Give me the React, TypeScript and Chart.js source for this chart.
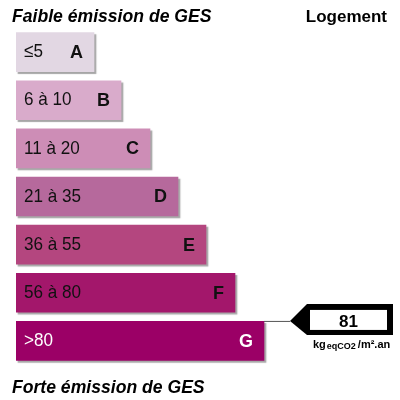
import { useEffect, useRef } from 'react';
import { Chart, registerables } from 'chart.js';

Chart.register(...registerables);

// GES classes, from low to high emission
const classes = ['A', 'B', 'C', 'D', 'E', 'F', 'G'];
const ranges = ['≤5', '6 à 10', '11 à 20', '21 à 35', '36 à 55', '56 à 80', '>80'];
const barLengths = [78, 105, 134, 162, 190, 219, 248];
const classColors = ['#e2d7e3', '#d9abcb', '#cd8db6', '#b6699c', '#b4467f', '#a3176b', '#9b0066'];
const lightText = [false, false, false, false, false, false, true];

const currentValue = 81;
const currentClass = 'G';
const unitMain = 'kg';
const unitSub = 'eqCO2';
const unitTail = '/m².an';

const topLabel = 'Faible émission de GES';
const bottomLabel = 'Forte émission de GES';
const typeLabel = 'Logement';

const FONT = '"Liberation Sans", Arial, sans-serif';

// draw text squeezed horizontally (the original uses a narrow face)
function narrowText(ctx: CanvasRenderingContext2D, text: string, x: number, y: number, sx: number) {
  ctx.save();
  ctx.translate(x, y);
  ctx.scale(sx, 1);
  ctx.fillText(text, 0, 0);
  ctx.restore();
}

const labelPlugin = {
  id: 'gesLabels',
  beforeDatasetDraw(chart: any) {
    const ctx = chart.ctx;
    ctx.save();
    ctx.shadowColor = 'rgba(0, 0, 0, 0.35)';
    ctx.shadowOffsetX = 2;
    ctx.shadowOffsetY = 2;
    ctx.shadowBlur = 1;
  },
  afterDatasetDraw(chart: any) {
    chart.ctx.restore();
  },
  afterDraw(chart: any) {
    const ctx = chart.ctx;
    const meta = chart.getDatasetMeta(0);

    ctx.save();
    // headings
    ctx.fillStyle = '#000';
    ctx.textBaseline = 'alphabetic';
    ctx.font = `italic bold 17.6px ${FONT}`;
    ctx.textAlign = 'left';
    ctx.fillText(topLabel, 12, 22);
    ctx.fillText(bottomLabel, 12, 393);
    ctx.font = `bold 17px ${FONT}`;
    ctx.textAlign = 'right';
    ctx.fillText(typeLabel, 387, 22);

    // text in the bars
    meta.data.forEach((bar: any, i: number) => {
      const color = lightText[i] ? '#fff' : '#111';
      ctx.fillStyle = color;
      ctx.textBaseline = 'middle';
      ctx.font = `19px ${FONT}`;
      ctx.textAlign = 'left';
      narrowText(ctx, ranges[i], bar.base + 8, bar.y, 0.9);
      ctx.font = `bold 18px ${FONT}`;
      ctx.textAlign = 'right';
      ctx.fillText(classes[i], bar.x - 11, bar.y + 1);
    });

    // pointer for the current value
    const idx = classes.indexOf(currentClass);
    const bar = meta.data[idx];
    const cy = bar.y - 21;
    const tipX = bar.x + 26;
    const right = 393;

    ctx.strokeStyle = '#555';
    ctx.lineWidth = 1;
    ctx.beginPath();
    ctx.moveTo(bar.x, cy + 1.5);
    ctx.lineTo(tipX, cy + 1.5);
    ctx.stroke();

    ctx.fillStyle = '#000';
    ctx.beginPath();
    ctx.moveTo(tipX, cy + 1);
    ctx.lineTo(tipX + 17, cy - 16);
    ctx.lineTo(right, cy - 16);
    ctx.lineTo(right, cy + 15);
    ctx.lineTo(tipX + 17, cy + 15);
    ctx.closePath();
    ctx.fill();

    ctx.fillStyle = '#fff';
    ctx.fillRect(tipX + 20, cy - 10, right - 6 - (tipX + 20), 20);

    ctx.fillStyle = '#000';
    ctx.font = `bold 17px ${FONT}`;
    ctx.textAlign = 'center';
    ctx.textBaseline = 'alphabetic';
    ctx.fillText(String(currentValue), (tipX + 20 + right - 6) / 2, cy + 7);

    // unit line
    ctx.textAlign = 'left';
    let ux = tipX + 23;
    const uy = cy + 28;
    ctx.font = `bold 11px ${FONT}`;
    ctx.fillText(unitMain, ux, uy);
    ux += ctx.measureText(unitMain).width + 1;
    ctx.font = `bold 9px ${FONT}`;
    ctx.fillText(unitSub, ux, uy + 1);
    ux += ctx.measureText(unitSub).width + 2;
    ctx.font = `bold 11px ${FONT}`;
    ctx.fillText(unitTail, ux, uy);
    ctx.restore();
  },
};

function GesChart() {
  const chartRef = useRef<HTMLCanvasElement>(null);
  const chartInstance = useRef<Chart | null>(null);

  useEffect(() => {
    if (!chartRef.current) return;
    if (chartInstance.current) {
      chartInstance.current.destroy();
    }
    const ctx = chartRef.current.getContext('2d');
    if (ctx) {
      chartInstance.current = new Chart(ctx, {
        type: 'bar',
        data: {
          labels: classes,
          datasets: [
            {
              data: barLengths,
              backgroundColor: classColors,
              borderWidth: 0,
              barThickness: 39,
            },
          ],
        },
        options: {
          indexAxis: 'y',
          animation: false,
          responsive: true,
          maintainAspectRatio: false,
          layout: {
            padding: { left: 16, right: 16, top: 28, bottom: 35 },
          },
          plugins: {
            legend: { display: false },
            tooltip: { enabled: false },
          },
          scales: {
            x: { display: false, min: 0, max: 368 },
            y: { display: false },
          },
        },
        plugins: [labelPlugin],
      });
    }
    return () => {
      if (chartInstance.current) {
        chartInstance.current.destroy();
        chartInstance.current = null;
      }
    };
  }, []);

  return (
    <div style={{ position: 'absolute', left: 0, top: 0, width: 400, height: 400, background: '#fff' }}>
      <canvas ref={chartRef}></canvas>
    </div>
  );
}

export default function App() {
  return <GesChart />;
}
